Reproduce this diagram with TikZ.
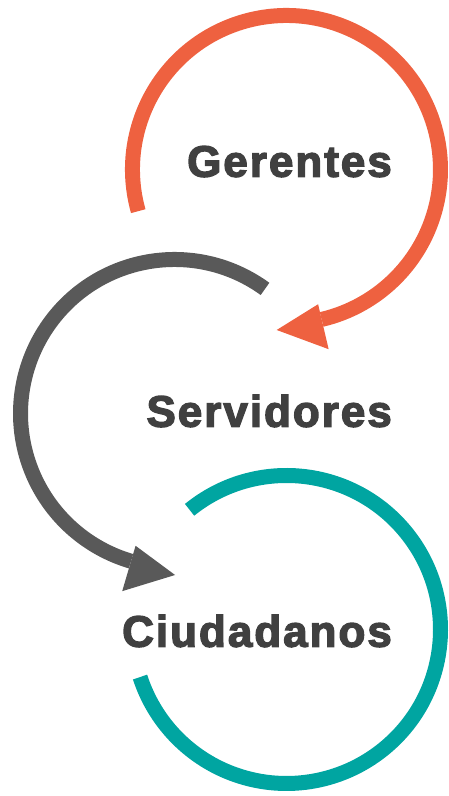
\documentclass[tikz,border=0pt]{standalone}
\usepackage{fontspec}
\newfontfamily\etiqueta{Liberation Sans Bold}[FakeBold=3,LetterSpace=4.5]
\definecolor{naranja}{HTML}{EE6140}
\definecolor{grisarco}{HTML}{595959}
\definecolor{turquesa}{HTML}{00A5A1}
\definecolor{gristexto}{HTML}{404040}
\begin{document}
\begin{tikzpicture}[x=1pt,y=1pt,
  arco/.style={line width=15pt},
  texto/.style={anchor=base east, inner sep=0pt, text=gristexto,
    font=\etiqueta\fontsize{44}{50}\selectfont}]
\useasboundingbox (0,0) rectangle (449,796);
% Centros de los tres circulos
\coordinate (cg) at (286.5,626.5);
\coordinate (cs) at (174.5,382.5);
\coordinate (cc) at (286.5,166.5);

% Arco de Gerentes con su flecha
\draw[arco, naranja] ([shift={(195.7:154)}]cg) arc[start angle=195.7, end angle=-76.8, radius=154];
\fill[naranja] ([shift={(-76.8:138.4)}]cg) -- ([shift={(-93.5:160.8)}]cg) -- ([shift={(-76.8:184.6)}]cg) -- cycle;

% Arco de Servidores con su flecha
\draw[arco, grisarco] ([shift={(54:154)}]cs) arc[start angle=54, end angle=253.6, radius=154];
\fill[grisarco] ([shift={(253.6:137.9)}]cs) -- ([shift={(270.2:161.5)}]cs) -- ([shift={(253.6:185.2)}]cs) -- cycle;

% Arco de Ciudadanos
\draw[arco, turquesa] ([shift={(129:154)}]cc) arc[start angle=129, end angle=-162, radius=154];

% Etiquetas
\node[texto] (gerentes) at (392,619.3) {Gerentes};
\node[texto] (servidores) at (392,369.3) {Servidores};
\node[texto] (ciudadanos) at (392,149.3) {Ciudadanos};
\end{tikzpicture}
\end{document}
